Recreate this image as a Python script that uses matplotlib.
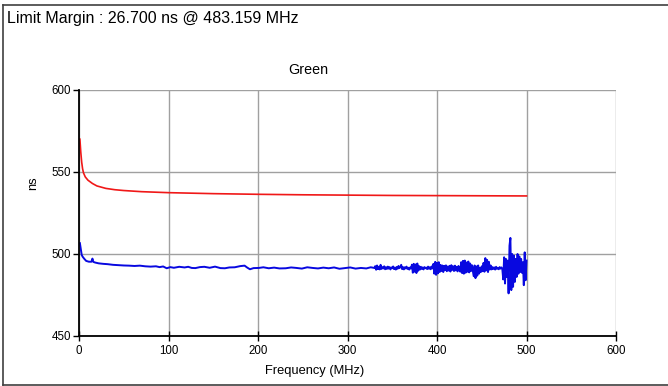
import matplotlib
matplotlib.use("Agg")
import matplotlib.pyplot as plt
from matplotlib.lines import Line2D

plt.rcParams['font.family'] = ['Liberation Sans', 'DejaVu Sans']

# limit curve (red)
limit_freq = [1, 2, 3, 4, 5, 7, 10, 15, 20, 30, 40, 50, 70, 100, 150, 200, 250, 300, 350, 400, 450, 500]
limit_ns = [570, 562, 556, 552, 549.5, 547, 545, 543, 541.5, 540, 539.2, 538.7, 538, 537.4,
            536.8, 536.4, 536.1, 535.9, 535.7, 535.6, 535.5, 535.4]

# measured delay (blue), low-frequency part
meas_freq_lo = [1, 2, 3, 4, 6, 8, 11, 14, 15, 16, 18, 22, 27, 32, 38, 44, 50, 56, 62, 68, 74, 80,
                86, 90, 94, 98, 102, 106, 112, 118, 122, 126, 130, 135, 140, 146, 152, 158, 163,
                168, 174, 180, 185, 188, 191, 195, 201, 206, 212, 218, 224, 231, 237, 243, 249,
                255, 261, 267, 273, 279, 285, 291, 297, 303, 309, 315, 321, 326]
meas_ns_lo = [506.6, 503, 499.5, 498.4, 497, 495.8, 495.3, 495.3, 497.2, 495.2, 494.8, 494.3,
              494.0, 493.8, 493.4, 493.2, 493.0, 492.9, 492.7, 492.9, 492.5, 492.3, 492.5, 492.0,
              492.4, 491.3, 492.0, 491.6, 492.2, 491.8, 492.2, 491.5, 491.4, 492.0, 492.2, 491.6,
              492.3, 491.4, 491.3, 491.8, 491.9, 492.6, 492.9, 491.7, 490.7, 491.4, 491.5, 491.9,
              491.3, 491.7, 491.2, 491.3, 491.8, 491.5, 491.1, 491.9, 491.5, 491.2, 491.7, 491.3,
              491.8, 491.0, 491.4, 491.8, 491.1, 491.5, 491.2, 491.9]

# measured delay (blue), noisy part, 1 MHz steps from 330 to 500
meas_freq_hi = list(range(330, 501))
meas_ns_hi = [
    491.5, 492.6, 490.4, 493.0, 490.8, 492.2, 490.6, 493.4, 490.9, 492.0, 491.2,
    492.5, 490.7, 491.9, 490.9, 492.3, 491.1, 492.0, 490.6, 491.8, 491.3,
    492.4, 490.8, 491.7, 490.5, 492.1, 491.0, 492.7, 491.4, 492.0, 493.4,
    490.8, 492.0, 490.6, 491.9, 491.2, 492.3, 490.9, 491.6, 490.5, 491.8, 491.2,
    493.5, 488.6, 494.0, 489.2, 493.6, 488.4, 494.2, 489.8, 492.6,
    490.5, 492.2, 490.9, 491.8, 490.6, 492.0, 491.3, 491.7, 490.8, 492.3, 491.0, 491.9,
    490.7, 492.4, 491.2,
    494.0, 488.0, 495.2, 487.3, 494.6, 488.2, 495.0, 489.0, 493.4,
    489.6, 493.0, 489.0, 492.8, 490.2, 493.1, 489.5, 492.4, 489.9, 492.8, 489.3,
    493.2, 490.3, 492.5, 489.6, 492.9, 490.0, 492.2, 489.4, 492.7, 490.4,
    489.2, 495.0, 488.4, 495.8, 488.0, 496.0, 488.6, 494.8, 489.2, 495.4, 488.8,
    494.2, 489.6, 493.2, 490.0,
    486.5, 493.0, 485.3, 492.4, 486.8, 493.0, 488.0, 491.6, 489.0, 492.5,
    489.5, 494.6, 489.2, 497.5, 490.0, 496.4, 489.0, 495.2, 490.5, 493.0,
    490.6, 492.0, 490.9, 491.8, 490.5, 492.2, 491.0, 491.6, 490.7, 492.0, 491.1,
    491.8, 490.8,
    484.5, 498.0, 482.0, 497.0, 486.0,
    496.0, 476.0, 505.0, 509.8, 478.0, 500.0,
    480.0, 499.0, 483.0, 497.0, 486.0,
    500.0, 488.0, 498.5, 489.0, 497.0, 488.5, 495.0,
    481.0, 501.0, 484.0, 496.0]

x_ticks = [0, 100, 200, 300, 400, 500, 600]
y_ticks = [450, 500, 550, 600]

W, H = 668, 386
fig = plt.figure(figsize=(W / 100, H / 100), dpi=100)
ax = fig.add_axes([79 / W, 50 / H, 537 / W, 246 / H])

ax.plot(limit_freq, limit_ns, color='#f01818', lw=1.2)
ax.plot(meas_freq_lo + meas_freq_hi, meas_ns_lo + meas_ns_hi, color='#0808e0', lw=1.4)

ax.set_xlim(0, 600)
ax.set_ylim(450, 600)
ax.set_xticks(x_ticks)
ax.set_yticks(y_ticks)
ax.grid(True, color='#a0a0a0', lw=1)
ax.set_axisbelow(True)
for s in ['top', 'right']:
    ax.spines[s].set_visible(False)
for s in ['left', 'bottom']:
    ax.spines[s].set_linewidth(1.3)
ax.tick_params(axis='x', direction='inout', length=7, width=1, labelsize=8.3, pad=3)
ax.tick_params(axis='y', direction='out', length=4, width=1, labelsize=8.3, pad=1.5)

fig.text(7 / W, 1 - 23 / H, 'Limit Margin : 26.700 ns @ 483.159 MHz', fontsize=11.5,
         ha='left', va='baseline')
fig.text(308 / W, 1 - 74 / H, 'Green', fontsize=10.3, ha='center', va='baseline')
fig.text(315 / W, 1 - 374 / H, 'Frequency (MHz)', fontsize=9.3, ha='center', va='baseline')
fig.text(33 / W, 1 - 183 / H, 'ns', fontsize=9.3, ha='center', va='center', rotation=90)

# outer frame
bc = '#404040'
fig.add_artist(Line2D([3 / W, 3 / W], [1 - 5 / H, 1 - 385 / H], color=bc, lw=1.2))
fig.add_artist(Line2D([3 / W, 1], [1 - 5 / H, 1 - 5 / H], color=bc, lw=1.2))
fig.add_artist(Line2D([3 / W, 1], [1 - 385 / H, 1 - 385 / H], color=bc, lw=1.2))

fig.savefig('out.png', dpi=100)
